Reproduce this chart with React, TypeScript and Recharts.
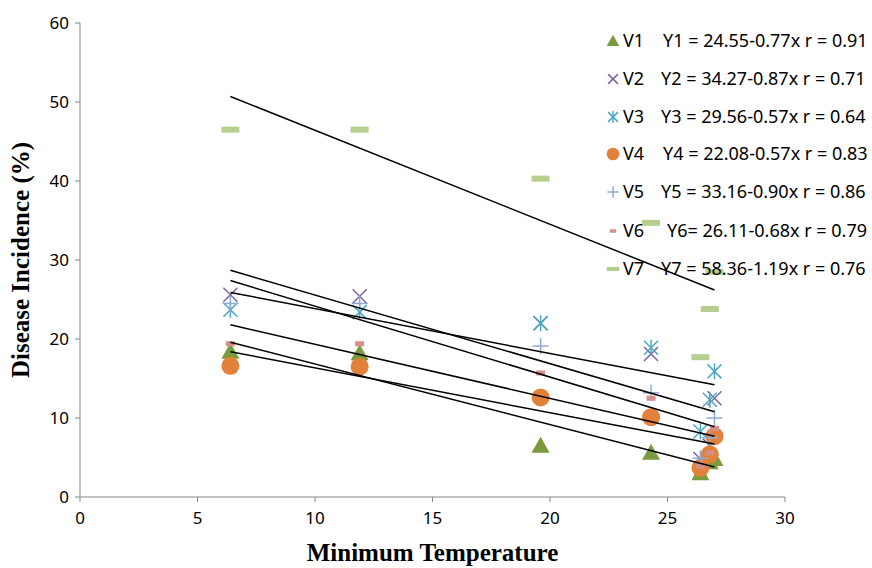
import React from 'react';
import { ScatterChart, Scatter, XAxis, YAxis } from 'recharts';

// Minimum temperature readings (x)
const TEMPS = [6.4, 11.9, 19.6, 24.3, 26.4, 26.8, 27.0];

// Disease incidence (%) per variety
const V1 = [18.4, 18.2, 6.5, 5.6, 3.0, 4.4, 4.8];
const V2 = [25.6, 25.4, 22.0, 18.1, 4.8, 6.5, 12.5];
const V3 = [23.7, 23.4, 22.0, 18.9, 8.3, 12.3, 15.9];
const V4 = [16.6, 16.5, 12.6, 10.1, 3.7, 5.4, 7.7];
const V5 = [24.5, 24.5, 19.1, 13.2, 4.9, 7.5, 10.0];
const V6 = [19.4, 19.4, 15.7, 12.5, 3.9, 5.6, 8.7];
const V7 = [46.5, 46.5, 40.3, 34.7, 17.7, 23.8, 28.5];

// Trend line end points
const TREND_X = [6.4, 27.0];
const TREND_START = [19.6, 28.7, 25.9, 18.4, 27.4, 21.8, 50.7];
const TREND_END = [3.8, 10.8, 14.2, 6.7, 8.9, 7.7, 26.2];

const NAMES = ['V1', 'V2', 'V3', 'V4', 'V5', 'V6', 'V7'];
const EQUATIONS = [
  'Y1 = 24.55-0.77x r = 0.91',
  'Y2 = 34.27-0.87x r = 0.71',
  'Y3 = 29.56-0.57x r = 0.64',
  'Y4 = 22.08-0.57x r = 0.83',
  'Y5 = 33.16-0.90x r = 0.86',
  'Y6= 26.11-0.68x r = 0.79',
  'Y7 = 58.36-1.19x r = 0.76',
];

const X_TICKS = [0, 5, 10, 15, 20, 25, 30];
const Y_TICKS = [0, 10, 20, 30, 40, 50, 60];

const SERIES = [V1, V2, V3, V4, V5, V6, V7];
const KINDS = ['triangle', 'x', 'star', 'circle', 'plus', 'dash', 'bar'];
const COLORS = ['#7a9a3e', '#7e64a0', '#4aa8c0', '#e2823a', '#8eaad6', '#d48e8c', '#b6cf8e'];

const LEGEND_TOP = [29, 67, 105, 142, 180, 219, 257];
const EQ_LEFT = [663, 661, 661, 663, 661, 667, 661];

const titleStyle = { fill: '#000', fontSize: 25, fontWeight: 'bold', fontFamily: 'Liberation Serif' };

function XTick({ x, y, payload }: any) {
  return (
    <text x={x} y={y + 20} textAnchor="middle" fontSize={17} fontFamily="Noto Sans" fill="#000">
      {payload.value}
    </text>
  );
}

function YTick({ x, y, payload }: any) {
  return (
    <text x={x - 4} y={y + 6} textAnchor="end" fontSize={17} fontFamily="Noto Sans" fill="#000">
      {payload.value}
    </text>
  );
}

function Marker({ kind, cx, cy, color, s = 1 }: { kind: string; cx: number; cy: number; color: string; s?: number }) {
  const d = 7 * s;
  switch (kind) {
    case 'triangle':
      return <polygon points={`${cx},${cy - 9 * s} ${cx + 9 * s},${cy + 7 * s} ${cx - 9 * s},${cy + 7 * s}`} fill={color} />;
    case 'x':
      return (
        <g stroke={color} strokeWidth={1.5}>
          <line x1={cx - d} y1={cy - d} x2={cx + d} y2={cy + d} />
          <line x1={cx - d} y1={cy + d} x2={cx + d} y2={cy - d} />
        </g>
      );
    case 'star':
      return (
        <g stroke={color} strokeWidth={1.5}>
          <line x1={cx - d} y1={cy - d} x2={cx + d} y2={cy + d} />
          <line x1={cx - d} y1={cy + d} x2={cx + d} y2={cy - d} />
          <line x1={cx} y1={cy - d - 1} x2={cx} y2={cy + d + 1} />
        </g>
      );
    case 'circle':
      return <circle cx={cx} cy={cy} r={9 * s} fill={color} />;
    case 'plus':
      return (
        <g stroke={color} strokeWidth={1.5}>
          <line x1={cx - 8 * s} y1={cy} x2={cx + 8 * s} y2={cy} />
          <line x1={cx} y1={cy - 8 * s} x2={cx} y2={cy + 8 * s} />
        </g>
      );
    case 'dash':
      return <rect x={cx - 4.5 * s} y={cy - 2.5 * s} width={9 * s} height={5 * s} fill={color} />;
    default:
      return <rect x={cx - 9 * s} y={cy - 3 * s} width={18 * s} height={6 * s} fill={color} />;
  }
}

export default function App() {
  return (
    <div style={{ position: 'absolute', left: 0, top: 0, width: 872, height: 568, background: '#fff' }}>
      <ScatterChart width={872} height={568} margin={{ top: 23, right: 87, left: 0, bottom: 0 }}>
        <XAxis
          type="number"
          dataKey="x"
          domain={[0, 30]}
          ticks={X_TICKS}
          stroke="#868686"
          tick={<XTick />}
          tickSize={5}
          height={71}
          label={{ value: 'Minimum Temperature', position: 'insideBottom', offset: 7, style: titleStyle }}
        />
        <YAxis
          type="number"
          dataKey="y"
          domain={[0, 60]}
          ticks={Y_TICKS}
          stroke="#868686"
          tick={<YTick />}
          tickSize={5}
          width={80}
          label={{
            value: 'Disease Incidence (%)',
            angle: -90,
            position: 'insideLeft',
            offset: 20,
            style: { ...titleStyle, textAnchor: 'middle' },
          }}
        />
        {SERIES.map((vals, i) => (
          <Scatter
            key={NAMES[i]}
            name={NAMES[i]}
            data={TEMPS.map((x, j) => ({ x, y: vals[j] }))}
            isAnimationActive={false}
            shape={(p: any) => <Marker kind={KINDS[i]} cx={p.cx} cy={p.cy} color={COLORS[i]} />}
          />
        ))}
        {TREND_START.map((y0, i) => (
          <Scatter
            key={'trend' + i}
            data={[
              { x: TREND_X[0], y: y0 },
              { x: TREND_X[1], y: TREND_END[i] },
            ]}
            line={{ stroke: '#000', strokeWidth: 1.5 }}
            isAnimationActive={false}
            shape={() => <g />}
          />
        ))}
      </ScatterChart>
      {NAMES.map((name, i) => (
        <div
          key={name}
          style={{
            position: 'absolute',
            top: LEGEND_TOP[i],
            left: 604,
            height: 22,
            display: 'flex',
            alignItems: 'center',
            fontFamily: 'Noto Sans',
            fontSize: 18,
            color: '#000',
            pointerEvents: 'none',
          }}
        >
          <svg width={18} height={22}>
            <Marker kind={KINDS[i]} cx={9} cy={12} color={COLORS[i]} s={0.7} />
          </svg>
          <span style={{ marginLeft: 1 }}>{name}</span>
          <span style={{ position: 'absolute', left: EQ_LEFT[i] - 604, whiteSpace: 'nowrap' }}>{EQUATIONS[i]}</span>
        </div>
      ))}
    </div>
  );
}
